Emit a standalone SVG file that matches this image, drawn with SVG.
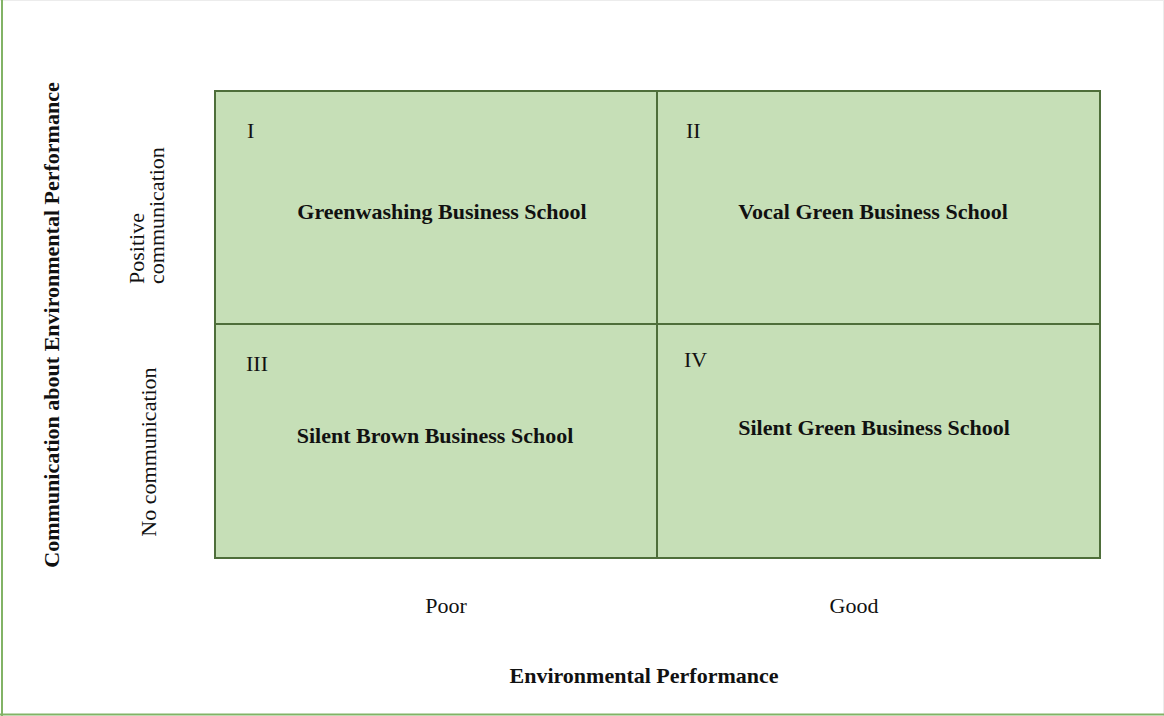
<svg xmlns="http://www.w3.org/2000/svg" width="1164" height="716" viewBox="0 0 1164 716">
  <style>
    .cell { fill: #c6dfb7; stroke: #4e6e3a; stroke-width: 2; }
    .t { font-family: "Liberation Serif", "Times New Roman", serif; fill: #111111; font-size: 22px; }
    .b { font-weight: bold; }
    .c { text-anchor: middle; }
  </style>

  <!-- page background and frame edges -->
  <rect x="0" y="0" width="1164" height="716" fill="#ffffff"/>
  <line x1="0" y1="0.5" x2="1164" y2="0.5" stroke="#ececec" stroke-width="1"/>
  <line x1="1163.5" y1="0" x2="1163.5" y2="716" stroke="#ececec" stroke-width="1"/>
  <line x1="2" y1="0" x2="2" y2="716" stroke="#82b366" stroke-width="2"/>
  <line x1="0" y1="714.5" x2="1164" y2="714.5" stroke="#82b366" stroke-width="2"/>

  <!-- quadrant cells -->
  <g id="q1">
    <rect class="cell" x="215" y="91" width="442" height="233"/>
    <text class="t" x="247" y="138">I</text>
    <text class="t b c" x="442" y="219">Greenwashing Business School</text>
  </g>
  <g id="q2">
    <rect class="cell" x="657" y="91" width="443" height="233"/>
    <text class="t" x="686" y="138">II</text>
    <text class="t b c" x="873" y="219">Vocal Green Business School</text>
  </g>
  <g id="q3">
    <rect class="cell" x="215" y="324" width="442" height="234"/>
    <text class="t" x="246" y="371">III</text>
    <text class="t b c" x="435" y="443">Silent Brown Business School</text>
  </g>
  <g id="q4">
    <rect class="cell" x="657" y="324" width="443" height="234"/>
    <text class="t" x="684" y="367">IV</text>
    <text class="t b c" x="874" y="435">Silent Green Business School</text>
  </g>

  <!-- horizontal axis -->
  <g id="x-axis">
    <text class="t c" x="446" y="613">Poor</text>
    <text class="t c" x="854" y="613">Good</text>
    <text class="t b c" x="644" y="683">Environmental Performance</text>
  </g>

  <!-- vertical axis -->
  <g id="y-axis">
    <text class="t b c" transform="translate(59,325) rotate(-90)">Communication about Environmental Performance</text>
    <text class="t" transform="translate(144,284) rotate(-90)">Positive</text>
    <text class="t" transform="translate(164,284) rotate(-90)">communication</text>
    <text class="t c" transform="translate(156,452) rotate(-90)">No communication</text>
  </g>
</svg>
